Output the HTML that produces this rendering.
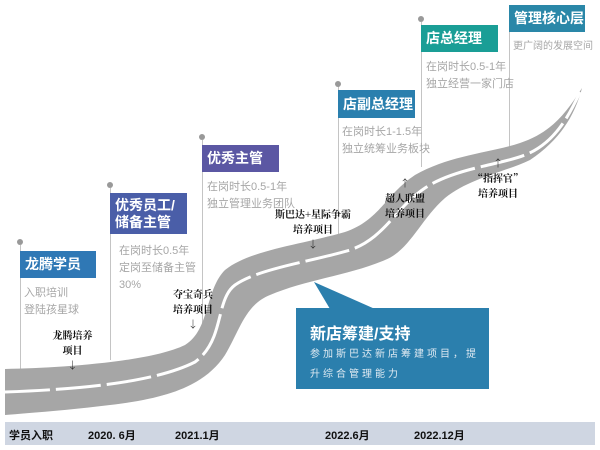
<!DOCTYPE html>
<html><head><meta charset="utf-8"><style>
body{margin:0;width:600px;height:450px;background:#fff;overflow:hidden;position:relative;font-family:"Liberation Sans","Noto Sans CJK SC",sans-serif}
.a{position:absolute}
.box{position:absolute;color:#fff;font-weight:bold;font-size:14px;padding-left:5px;box-sizing:border-box;white-space:nowrap}
.sub{position:absolute;color:#a6a6a6;font-size:11px;line-height:17px;white-space:nowrap}
.ln{position:absolute;width:1px;background:#c4c4c4}
.dot{position:absolute;width:6px;height:6px;border-radius:3px;background:#999}
.lab{position:absolute;font-family:"Noto Serif CJK SC","WenQuanYi Zen Hei",serif;font-weight:bold;font-size:10px;color:#111;text-align:center;line-height:15px;white-space:nowrap}
.tl{position:absolute;top:427px;font-size:11px;font-weight:bold;color:#111}
</style></head><body>
<div class="ln" style="left:20px;top:245px;height:125px"></div><div class="dot" style="left:17px;top:239px"></div>
<div class="ln" style="left:110px;top:188px;height:172px"></div><div class="dot" style="left:107px;top:182px"></div>
<div class="ln" style="left:202px;top:140px;height:200px"></div><div class="dot" style="left:199px;top:134px"></div>
<div class="ln" style="left:338px;top:86px;height:150px"></div><div class="dot" style="left:335px;top:81px"></div>
<div class="ln" style="left:421px;top:22px;height:145px"></div><div class="dot" style="left:418px;top:16px"></div>
<div class="ln" style="left:509px;top:5px;height:150px"></div>
<svg class="a" style="left:0;top:0" width="600" height="450">
<path d="M5 369 C60 368 150 362 185 345 C210 330 205 290 225 270 C250 250 300 245 345 232 C380 220 385 195 415 175 C450 155 490 153 520 143 C550 133 565 115 582 88 C575 115 560 140 530 160 C505 172 470 178 445 198 C420 220 410 250 385 260 C350 275 305 280 270 295 C245 305 240 330 225 355 C205 385 170 398 110 405 C70 410 30 413 5 415 Z" fill="#a6a6a6"/>
<path d="M5 392 C60 390 150 385 195 362 C225 340 215 300 235 285 C260 268 310 262 350 250 C385 238 395 208 425 188 C455 168 500 165 525 155 C550 145 565 125 580 92" fill="none" stroke="#fff" stroke-width="3" stroke-dasharray="45 6"/>
</svg>
<div class="box" style="left:20px;top:251px;width:76px;height:27px;line-height:27px;background:#2f78b5">龙腾学员</div>
<div class="sub" style="left:24px;top:285px">入职培训<br>登陆孩星球</div>
<div class="box" style="left:110px;top:193px;width:77px;height:41px;line-height:17px;padding-top:4px;background:#4a5ea8">优秀员工/<br>储备主管</div>
<div class="sub" style="left:119px;top:243px">在岗时长0.5年<br>定岗至储备主管<br>30%</div>
<div class="box" style="left:202px;top:145px;width:77px;height:27px;line-height:27px;background:#5b57a3">优秀主管</div>
<div class="sub" style="left:207px;top:179px">在岗时长0.5-1年<br>独立管理业务团队</div>
<div class="box" style="left:338px;top:90px;width:77px;height:28px;line-height:28px;background:#2a7fae">店副总经理</div>
<div class="sub" style="left:342px;top:124px">在岗时长1-1.5年<br>独立统筹业务板块</div>
<div class="box" style="left:421px;top:25px;width:77px;height:27px;line-height:27px;background:#1a9e96">店总经理</div>
<div class="sub" style="left:426px;top:59px">在岗时长0.5-1年<br>独立经营一家门店</div>
<div class="box" style="left:509px;top:5px;width:76px;height:27px;line-height:27px;background:#2a87a8">管理核心层</div>
<div class="sub" style="left:513px;top:38px;font-size:10px">更广阔的发展空间</div>
<div class="lab" style="left:45px;top:327px;width:55px">龙腾培养<br>项目<br>↓</div>
<div class="lab" style="left:168px;top:286px;width:50px">夺宝奇兵<br>培养项目<br>↓</div>
<div class="lab" style="left:268px;top:206px;width:90px">斯巴达+星际争霸<br>培养项目<br>↓</div>
<div class="lab" style="left:380px;top:175px;width:50px">↑<br>超人联盟<br>培养项目</div>
<div class="lab" style="left:468px;top:155px;width:60px">↑<br>“指挥官”<br>培养项目</div>
<svg class="a" style="left:0;top:0" width="600" height="450"><polygon points="314,282 330,309 375,309" fill="#2b7fad"/></svg>
<div class="a" style="left:296px;top:308px;width:193px;height:81px;background:#2b7fad;color:#fff">
<div style="position:absolute;left:14px;top:12px;font-size:16px;font-weight:bold">新店筹建/支持</div>
<div style="position:absolute;left:14px;top:37px;font-size:10px;letter-spacing:3px;line-height:20px;width:176px;color:#dfeaf2">参加斯巴达新店筹建项目，提升综合管理能力</div>
</div>
<div class="a" style="left:5px;top:422px;width:590px;height:23px;background:#cfd6e2"></div>
<div class="tl" style="left:9px">学员入职</div>
<div class="tl" style="left:88px">2020. 6月</div>
<div class="tl" style="left:175px">2021.1月</div>
<div class="tl" style="left:325px">2022.6月</div>
<div class="tl" style="left:414px">2022.12月</div>
</body></html>
